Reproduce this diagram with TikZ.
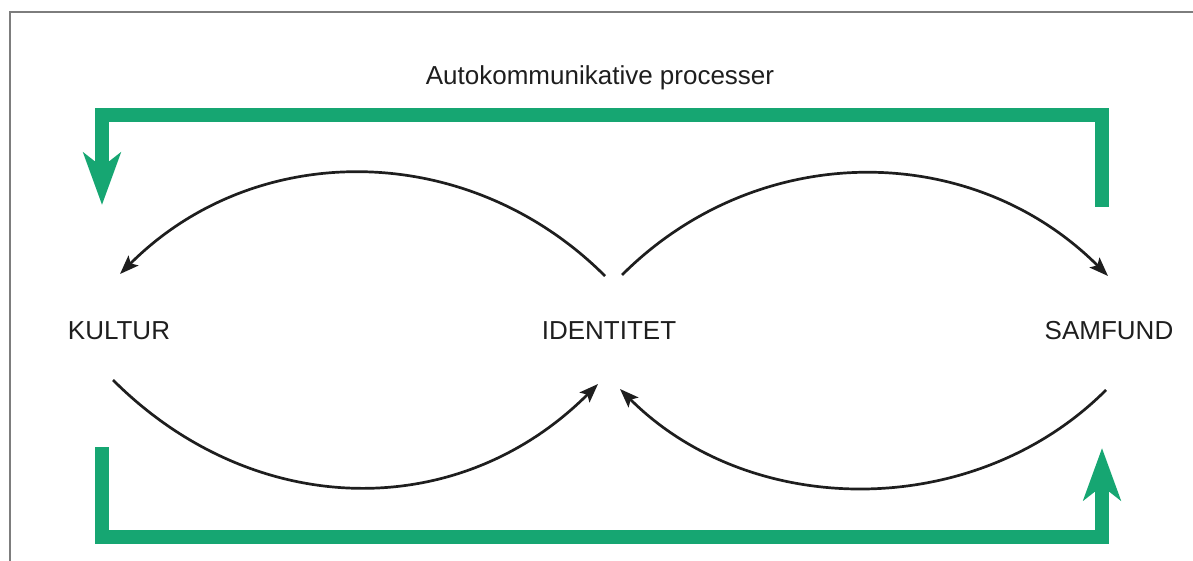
\documentclass[tikz,border=0pt]{standalone}
\usepackage{fontspec}
\setmainfont{Liberation Sans}
\usetikzlibrary{arrows.meta}
\definecolor{flowgreen}{RGB}{22,166,114}
\definecolor{framegray}{RGB}{125,125,125}
\definecolor{inkgray}{RGB}{30,30,30}
\tikzset{
  caption/.style={font=\fontsize{26}{30}\selectfont, text=inkgray, inner sep=0pt, anchor=base},
  greenloop/.style={draw=flowgreen, line width=14pt, line join=miter,
    -{Stealth[length=52pt, width=37pt, inset=14pt]}},
  arcarrow/.style={draw=inkgray, line width=2.7pt,
    -{Stealth[length=19pt, width=14pt, inset=4pt]}}
}
\begin{document}
\begin{tikzpicture}[x=1pt, y=-1pt]
  \useasboundingbox (0,0) rectangle (1193,561);
  % frame
  \draw[framegray, line width=1.6pt] (10,12) rectangle (1210,580);

  % labels
  \node[caption] (title) at (600,85) {Autokommunikative processer};
  \node[caption] (kultur) at (119,339) {KULTUR};
  \node[caption] (identitet) at (609,339) {IDENTITET};
  \node[caption] (samfund) at (1109,339) {SAMFUND};

  % ends of the curved arrows
  \coordinate (id-tl) at (605,276);
  \coordinate (id-tr) at (622,275);
  \coordinate (id-bl) at (598,384);
  \coordinate (id-br) at (620,389);
  \coordinate (ku-t) at (120,274);
  \coordinate (ku-b) at (113,380);
  \coordinate (sa-t) at (1108,276);
  \coordinate (sa-b) at (1106,390);

  % curved arrows
  \draw[arcarrow] (id-tl) .. controls +(-136,-136) and +(136,-136) .. (ku-t);
  \draw[arcarrow] (id-tr) .. controls +(136,-136) and +(-136,-136) .. (sa-t);
  \draw[arcarrow] (ku-b) .. controls +(140,140) and +(-140,140) .. (id-bl);
  \draw[arcarrow] (sa-b) .. controls +(-131,131) and +(131,131) .. (id-br);

  % green feedback loops
  \coordinate (top-start) at (1102,207);
  \coordinate (top-r) at (1102,115);
  \coordinate (top-l) at (102,115);
  \coordinate (top-end) at (102,205);
  \coordinate (bot-start) at (102,447);
  \coordinate (bot-l) at (102,537);
  \coordinate (bot-r) at (1102,537);
  \coordinate (bot-end) at (1102,448);
  \draw[greenloop] (top-start) -- (top-r) -- (top-l) -- (top-end);
  \draw[greenloop] (bot-start) -- (bot-l) -- (bot-r) -- (bot-end);
\end{tikzpicture}
\end{document}
